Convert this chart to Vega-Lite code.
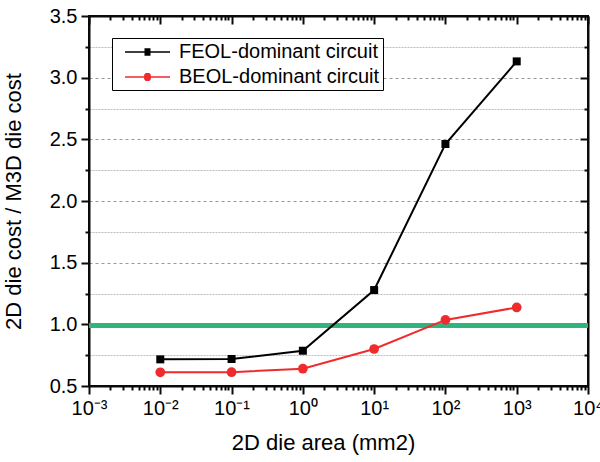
{
  "$schema": "https://vega.github.io/schema/vega-lite/v6.json",
  "width": 499,
  "height": 370,
  "autosize": {"type": "none"},
  "padding": {"left": 89, "top": 16, "right": 12, "bottom": 76},
  "background": "white",
  "data": {
    "values": [
      {"area": 0.01, "ratio": 0.716, "series": "FEOL-dominant circuit"},
      {"area": 0.1, "ratio": 0.719, "series": "FEOL-dominant circuit"},
      {"area": 1, "ratio": 0.786, "series": "FEOL-dominant circuit"},
      {"area": 10, "ratio": 1.278, "series": "FEOL-dominant circuit"},
      {"area": 100, "ratio": 2.462, "series": "FEOL-dominant circuit"},
      {"area": 1000, "ratio": 3.132, "series": "FEOL-dominant circuit"},
      {"area": 0.01, "ratio": 0.611, "series": "BEOL-dominant circuit"},
      {"area": 0.1, "ratio": 0.612, "series": "BEOL-dominant circuit"},
      {"area": 1, "ratio": 0.64, "series": "BEOL-dominant circuit"},
      {"area": 10, "ratio": 0.80, "series": "BEOL-dominant circuit"},
      {"area": 100, "ratio": 1.036, "series": "BEOL-dominant circuit"},
      {"area": 1000, "ratio": 1.137, "series": "BEOL-dominant circuit"}
    ]
  },
  "resolve": {
    "axis": {"x": "independent", "y": "independent"},
    "scale": {"color": "independent", "shape": "independent"}
  },
  "layer": [
    {
      "mark": {"type": "rule", "color": "#2fb47c", "strokeWidth": 3.5},
      "encoding": {
        "y": {"datum": 0.99, "type": "quantitative", "axis": null}
      }
    },
    {
      "mark": {"type": "line", "strokeWidth": 2},
      "encoding": {
        "x": {
          "field": "area", "type": "quantitative",
          "scale": {"type": "log", "domain": [0.001, 10000]},
          "axis": {
            "orient": "bottom",
            "values": [0.001, 0.01, 0.1, 1, 10, 100, 1000, 10000],
            "labelExpr": "datum.value < 0.005 ? '10⁻³' : datum.value < 0.05 ? '10⁻²' : datum.value < 0.5 ? '10⁻¹' : datum.value < 5 ? '10⁰' : datum.value < 50 ? '10¹' : datum.value < 500 ? '10²' : datum.value < 5000 ? '10³' : '10⁴'",
            "tickSize": 8,
            "tickColor": "#0a0a0a",
            "domainColor": "#0a0a0a",
            "labelPadding": 4,
            "title": "2D die area (mm2)",
            "titleX": 234,
            "titlePadding": 14
          }
        },
        "y": {
          "field": "ratio", "type": "quantitative",
          "scale": {"domain": [0.5, 3.5], "zero": false, "nice": false},
          "axis": {
            "orient": "left",
            "values": [0.5, 1, 1.5, 2, 2.5, 3, 3.5],
            "format": ".1f",
            "tickSize": 8,
            "tickColor": "#0a0a0a",
            "domainColor": "#0a0a0a",
            "labelPadding": 4,
            "title": "2D die cost / M3D die cost",
            "titlePadding": 24,
            "grid": true,
            "gridColor": "#9a9a9a",
            "gridDash": [3, 3],
            "gridWidth": 1
          }
        },
        "color": {
          "field": "series", "type": "nominal",
          "scale": {"domain": ["FEOL-dominant circuit", "BEOL-dominant circuit"], "range": ["#000000", "#ef2b2d"]},
          "legend": null
        }
      }
    },
    {
      "transform": [{"filter": "datum.series == 'FEOL-dominant circuit'"}],
      "mark": {"type": "point", "shape": "square", "filled": true, "size": 64, "opacity": 1, "color": "#000000"},
      "encoding": {
        "x": {
          "field": "area", "type": "quantitative",
          "axis": {
            "orient": "bottom",
            "values": [0.002, 0.003, 0.004, 0.005, 0.006, 0.007, 0.008, 0.009, 0.02, 0.03, 0.04, 0.05, 0.06, 0.07, 0.08, 0.09, 0.2, 0.3, 0.4, 0.5, 0.6, 0.7, 0.8, 0.9, 2, 3, 4, 5, 6, 7, 8, 9, 20, 30, 40, 50, 60, 70, 80, 90, 200, 300, 400, 500, 600, 700, 800, 900, 2000, 3000, 4000, 5000, 6000, 7000, 8000, 9000],
            "labels": false, "domain": false, "tickSize": 4, "tickColor": "#0a0a0a", "title": null
          }
        },
        "y": {
          "field": "ratio", "type": "quantitative",
          "axis": {
            "orient": "left",
            "values": [0.75, 1.25, 1.75, 2.25, 2.75, 3.25],
            "labels": false, "domain": false, "tickSize": 4, "tickColor": "#0a0a0a", "title": null,
            "grid": true, "gridColor": "#bcbcbc", "gridDash": [2, 1], "gridWidth": 1
          }
        }
      }
    },
    {
      "transform": [{"filter": "datum.series == 'BEOL-dominant circuit'"}],
      "mark": {"type": "point", "shape": "circle", "filled": true, "size": 95, "opacity": 1, "color": "#ef2b2d"},
      "encoding": {
        "x": {
          "field": "area", "type": "quantitative",
          "axis": {
            "orient": "top",
            "values": [0.001, 0.01, 0.1, 1, 10, 100, 1000, 10000],
            "labels": false, "tickSize": -8, "tickColor": "#0a0a0a", "domainColor": "#0a0a0a", "title": null
          }
        },
        "y": {
          "field": "ratio", "type": "quantitative",
          "axis": {
            "orient": "right",
            "values": [0.5, 1, 1.5, 2, 2.5, 3, 3.5],
            "labels": false, "tickSize": -8, "tickColor": "#0a0a0a", "domainColor": "#0a0a0a", "title": null
          }
        }
      }
    },
    {
      "mark": {"type": "point", "opacity": 0, "strokeWidth": 1.5},
      "encoding": {
        "x": {
          "field": "area", "type": "quantitative",
          "axis": {
            "orient": "top",
            "values": [0.002, 0.003, 0.004, 0.005, 0.006, 0.007, 0.008, 0.009, 0.02, 0.03, 0.04, 0.05, 0.06, 0.07, 0.08, 0.09, 0.2, 0.3, 0.4, 0.5, 0.6, 0.7, 0.8, 0.9, 2, 3, 4, 5, 6, 7, 8, 9, 20, 30, 40, 50, 60, 70, 80, 90, 200, 300, 400, 500, 600, 700, 800, 900, 2000, 3000, 4000, 5000, 6000, 7000, 8000, 9000],
            "labels": false, "domain": false, "tickSize": -4, "tickColor": "#0a0a0a", "title": null
          }
        },
        "y": {
          "field": "ratio", "type": "quantitative",
          "axis": {
            "orient": "right",
            "values": [0.75, 1.25, 1.75, 2.25, 2.75, 3.25],
            "labels": false, "domain": false, "tickSize": -4, "tickColor": "#0a0a0a", "title": null
          }
        },
        "color": {
          "field": "series", "type": "nominal",
          "scale": {"domain": ["FEOL-dominant circuit", "BEOL-dominant circuit"], "range": ["#000000", "#ef2b2d"]},
          "legend": {"title": null, "orient": "none", "legendX": 23, "legendY": 22, "symbolOpacity": 1, "labelExpr": "datum.label + '\u00a0\u00a0'"}
        },
        "shape": {
          "field": "series", "type": "nominal",
          "scale": {
            "domain": ["FEOL-dominant circuit", "BEOL-dominant circuit"],
            "range": [
              "M-0.1,0H4.4M1.85,-0.3H2.45M1.85,-0.2H2.45M1.85,-0.1H2.45M1.85,0.1H2.45M1.85,0.2H2.45M1.85,0.3H2.45",
              "M-0.1,0H4.4M1.92,-0.32H2.38M1.84,-0.22H2.46M1.8,-0.11H2.5M1.8,0.11H2.5M1.84,0.22H2.46M1.92,0.32H2.38"
            ]
          },
          "legend": {"title": null, "orient": "none", "legendX": 23, "legendY": 22, "symbolOpacity": 1, "labelExpr": "datum.label + '\u00a0\u00a0'"}
        }
      }
    }
  ],
  "config": {
    "view": {"stroke": "#0a0a0a", "strokeWidth": 2},
    "font": "Liberation Sans",
    "axis": {
      "labelFont": "Liberation Sans",
      "labelFontSize": 20,
      "labelColor": "#000000",
      "labelFlush": false,
      "labelOverlap": false,
      "titleFont": "Liberation Sans",
      "titleFontSize": 22,
      "titleFontWeight": "normal",
      "titleColor": "#000000",
      "tickWidth": 2,
      "domainWidth": 2,
      "grid": false
    },
    "legend": {
      "padding": 3,
      "strokeColor": "#000000",
      "fillColor": "#ffffff",
      "labelFont": "Liberation Sans",
      "labelFontSize": 20,
      "labelColor": "#000000",
      "labelOffset": 42,
      "labelLimit": 400,
      "symbolSize": 400,
      "symbolStrokeWidth": 1.5,
      "symbolOpacity": 1,
      "rowPadding": 4
    }
  }
}
